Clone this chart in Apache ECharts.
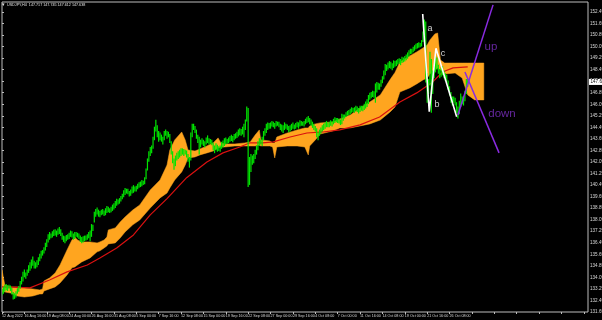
<!DOCTYPE html>
<html><head><meta charset="utf-8">
<script src="https://cdn.jsdelivr.net/npm/echarts@6/dist/echarts.min.js"></script>
<style>html,body{margin:0;padding:0;background:#000}#c{width:602px;height:320px}</style>
</head><body><div id="c"></div>
<script>
// time axis labels, one every 16 H4 bars
const timeLabels = ['12 Aug 2022','16 Aug 16:00','19 Aug 08:00','24 Aug 00:00','26 Aug 16:00','31 Aug 08:00','5 Sep 00:00','7 Sep 16:00','12 Sep 08:00','15 Sep 00:00','19 Sep 16:00','22 Sep 08:00','27 Sep 00:00','29 Sep 16:00','4 Oct 08:00','7 Oct 00:00','11 Oct 16:00','14 Oct 08:00','19 Oct 00:00','21 Oct 16:00','26 Oct 08:00'];
const priceMin = 131.69, priceMax = 153.18, priceStep = 0.8;
const titleText = 'USDJPY,H4  147.717 147.745 147.612 147.638';
const lastPrice = 147.638;

// H4 bar lows / highs (one line per trading day)
const barLow = [
132.85,132.95,133.10,133.20,133.15,133.30,
133.15,132.90,132.55,132.60,132.70,132.95,
133.10,133.30,133.60,133.80,134.10,134.00,
134.20,134.40,134.55,134.70,134.90,134.70,
134.70,134.80,134.95,135.20,135.40,135.60,
135.75,135.95,136.20,136.50,136.70,136.80,
136.85,136.95,137.00,136.90,137.05,137.10,
136.95,136.70,136.55,136.45,136.60,136.70,
136.75,136.90,136.85,136.70,136.75,136.90,
136.85,136.75,136.55,136.45,136.50,136.60,
136.65,136.70,136.80,136.60,136.90,137.30,
137.90,138.30,138.45,138.30,138.25,138.40,
138.45,138.35,138.40,138.55,138.60,138.55,
138.60,138.70,138.80,138.90,139.05,139.15,
139.20,139.35,139.50,139.65,139.80,139.90,
139.85,139.70,139.75,139.90,139.95,140.05,
140.05,140.20,140.30,140.35,140.40,140.50,
140.55,140.90,141.50,142.10,142.50,142.70,
143.00,143.60,144.20,143.80,143.50,143.60,
143.50,143.30,143.60,143.90,143.70,143.80,
143.40,142.60,142.00,141.55,141.80,142.20,
142.30,142.40,142.50,142.60,142.50,142.60,
142.40,142.10,141.70,142.20,143.80,144.30,
144.10,143.70,143.40,142.60,143.10,143.30,
143.20,143.10,143.30,143.40,143.30,143.35,
143.25,142.90,142.70,142.90,142.80,142.85,
142.80,143.00,143.10,143.20,143.30,143.35,
143.40,143.50,143.55,143.45,143.60,143.70,
143.75,143.85,143.95,143.90,144.00,143.80,
144.30,144.90,140.36,140.50,141.40,141.90,
142.00,142.30,142.60,142.90,143.20,143.30,
143.20,143.60,143.90,144.10,144.30,144.40,
144.40,144.55,144.50,144.40,144.55,144.60,
144.50,144.30,144.20,144.10,144.30,144.40,
144.30,144.15,144.20,144.30,144.40,144.35,
144.40,144.50,144.40,144.55,144.60,144.60,
144.55,144.70,144.80,144.85,144.70,144.60,
144.45,144.30,144.20,143.80,143.60,143.90,
144.05,144.20,144.30,144.40,144.50,144.50,
144.50,144.60,144.55,144.70,144.80,144.85,
144.80,144.75,144.65,144.70,144.95,145.10,
145.20,145.30,145.35,145.40,145.50,145.55,
145.50,145.60,145.55,145.45,145.55,145.65,
145.60,145.70,145.80,145.90,146.10,146.40,
146.50,146.60,146.55,146.20,146.90,147.10,
147.10,147.30,147.55,147.80,148.10,148.40,
148.50,148.60,148.55,148.45,148.60,148.70,
148.75,148.85,148.90,148.80,148.95,149.00,
149.05,149.15,149.25,149.40,149.55,149.60,
149.70,149.80,149.90,149.95,150.00,150.05,
150.10,150.40,150.90,147.60,146.20,146.80,
147.40,145.50,146.80,147.90,148.30,148.50,
148.20,147.90,148.00,148.10,147.90,147.70,
147.50,147.10,146.70,146.20,146.00,146.20,
146.00,145.50,145.10,145.40,145.90,146.10,
146.00,146.30,146.80,147.30
];
const barHigh = [
133.25,133.40,133.55,133.60,133.50,133.55,
133.50,133.35,133.05,132.95,133.10,133.30,
133.45,133.80,134.10,134.45,134.60,134.40,
134.60,134.90,135.10,135.30,135.50,135.20,
135.10,135.25,135.45,135.70,135.90,135.95,
136.15,136.45,136.70,137.05,137.20,137.10,
137.25,137.35,137.40,137.30,137.45,137.55,
137.40,137.15,136.95,136.90,137.00,137.05,
137.15,137.30,137.25,137.10,137.20,137.20,
137.15,137.10,136.95,136.85,136.90,136.95,
136.95,137.05,137.20,137.30,137.75,137.70,
138.60,138.80,138.90,138.75,138.65,138.75,
138.80,138.70,138.85,139.00,138.95,138.85,
138.95,139.10,139.20,139.35,139.50,139.45,
139.55,139.70,139.85,140.10,140.25,140.20,
140.20,140.05,140.15,140.35,140.45,140.35,
140.40,140.55,140.65,140.70,140.80,140.75,
141.00,141.60,142.30,142.80,143.10,143.20,
143.80,144.50,144.99,144.60,144.20,144.10,
143.95,143.80,144.20,144.30,144.20,144.15,
144.00,143.50,142.80,142.30,142.50,142.70,
142.80,142.90,143.00,143.00,142.95,142.90,
142.85,142.60,142.40,144.10,144.70,144.70,
144.55,144.30,143.95,143.80,143.60,143.70,
143.60,143.50,143.75,143.90,143.70,143.65,
143.60,143.40,143.20,143.35,143.25,143.15,
143.20,143.45,143.55,143.70,143.75,143.65,
143.75,143.85,143.95,143.85,144.00,144.05,
144.15,144.30,144.40,144.35,144.50,144.70,
145.00,145.90,145.80,142.40,142.60,142.50,
142.60,142.90,143.20,143.50,143.70,143.60,
143.80,144.20,144.40,144.70,144.80,144.75,
144.80,144.90,144.85,144.75,144.90,144.85,
144.85,144.70,144.65,144.60,144.80,144.70,
144.65,144.55,144.60,144.70,144.80,144.65,
144.75,144.85,144.80,144.95,144.90,144.85,
144.90,145.05,145.15,145.25,145.10,145.00,
144.85,144.70,144.55,144.40,144.10,144.30,
144.45,144.60,144.70,144.80,144.90,144.80,
144.85,144.95,144.90,145.05,145.15,145.10,
145.10,145.05,145.00,145.40,145.35,145.35,
145.50,145.60,145.65,145.75,145.85,145.80,
145.85,145.95,145.90,145.80,145.95,145.95,
145.95,146.10,146.25,146.40,146.70,146.85,
146.90,147.00,146.95,147.50,147.60,147.55,
147.50,147.75,148.00,148.40,148.85,148.80,
148.95,149.05,149.00,148.90,149.10,149.05,
149.10,149.20,149.25,149.20,149.35,149.30,
149.40,149.50,149.65,149.80,149.90,149.90,
150.05,150.15,150.25,150.30,150.35,150.30,
150.50,151.10,151.94,151.80,148.20,147.80,
149.70,149.20,148.40,148.70,149.40,149.30,
148.80,148.50,148.60,148.70,148.40,148.20,
148.10,147.70,147.30,146.90,146.60,146.60,
146.50,146.20,145.90,146.30,146.80,146.60,
146.60,147.00,147.80,147.80
];

// moving average (red) read at bar positions
const maBar   = [0,20,34,46.5,61,70,82,94,106,118,132,146.5,158,170,177,186.5,194,206,218,229.5,241.5,256,270,284.5,296.5,308,315,322.5,333];
const maPrice = [133.43,133.36,133.91,134.47,134.95,135.44,136.13,137.03,138.42,139.55,141.00,142.09,142.72,143.13,143.41,143.41,143.48,143.82,144.10,144.17,144.31,144.66,145.21,146.25,146.88,147.64,148.33,148.61,148.68];

// Ichimoku cloud envelope (top / bottom) at bar positions
const cloudBar = [0,2,6,11,16,22,27,29,30,34,38,41.5,46.5,50,52,54,57,63,68,70,73,75,76,81,84.5,88,93.5,98.5,106,113,118,120,123.5,128.5,131,133,138,141.5,146.5,151,154.5,156.5,159.5,166.5,173.5,177.5,181,184,185,191.5,193.5,195,196.5,204,211,216.5,219,220,224,227.5,236.5,241.5,249,256,263,270.5,277.5,281,284.5,291.5,296.5,301,304,306,309.5,311.5,313.5,316.5,324,329,333,338,344.5];
const cloudTop = [134.61,133.56,133.43,133.43,133.36,133.29,133.22,133.29,133.84,134.05,134.40,134.95,135.99,136.68,136.89,136.68,136.55,136.55,136.48,136.55,136.68,136.89,137.38,137.52,137.93,138.28,138.76,139.11,140.15,140.84,141.88,142.92,143.62,144.17,143.62,142.92,142.85,142.99,143.20,143.41,143.76,143.41,143.34,143.34,143.41,143.48,143.96,144.31,143.62,143.55,143.41,143.41,143.82,144.10,144.31,144.45,144.45,144.59,144.73,144.80,144.86,145.07,145.35,145.84,146.25,146.74,147.80,148.30,149.02,149.44,149.72,149.99,150.20,150.55,150.97,151.03,149.16,148.95,148.95,148.95,148.95,148.95,148.95];
const cloudBot = [133.08,133.08,133.01,132.80,132.73,132.80,132.94,132.94,133.15,133.29,133.43,133.70,134.26,134.75,134.81,134.95,135.16,135.44,135.86,135.93,136.13,136.27,136.41,136.48,136.82,137.24,137.73,138.07,138.90,139.60,139.94,140.29,140.84,141.40,141.88,142.37,142.44,142.58,142.72,142.85,143.06,143.13,143.13,143.20,143.20,143.20,143.20,143.27,143.20,143.20,143.13,142.37,143.13,143.20,143.20,143.13,142.58,143.20,143.62,144.03,144.24,144.45,144.45,144.59,144.73,145.00,145.56,145.90,146.94,147.22,147.50,147.78,147.91,148.19,148.47,148.61,148.47,148.19,148.26,147.91,146.74,146.39,146.39];

// analyst drawings
const wavePoints = [[300.8,152.35],[305.5,145.58],[310.3,149.97],[325.1,145.23]];
const upLine   = [[326.0,145.35],[351.1,152.98]];
const downLine = [[331.0,148.33],[355.4,142.72]];
const waveLabels  = [['a',306.0,151.31],['b',311.0,146.04],['c',315.3,149.58]];
const trendLabels = [['up',349.6,150.06],['down',357.5,145.42]];

const chart = echarts.init(document.getElementById('c'));
const FONT = 'Liberation Sans';
chart.setOption({
  backgroundColor: '#000',
  animation: false,
  textStyle: {fontFamily: FONT},
  grid: {left: 2, top: 2, right: 14, bottom: 8, show: true, borderColor: '#bdbdbd', borderWidth: 1,
    containLabel: false, outerBoundsMode: 'none'},
  xAxis: {
    type: 'value', min: 0, max: 419, interval: 16,
    axisLine: {show: false}, splitLine: {show: false},
    axisTick: {show: true, length: 2, lineStyle: {color: '#bdbdbd'}},
    axisLabel: {color: '#d8d8d8', fontSize: 3.7, fontFamily: FONT, align: 'left', margin: 1.5, showMaxLabel: false,
      formatter: v => (v % 16 === 0 && timeLabels[v / 16] !== undefined) ? timeLabels[v / 16] : ''}
  },
  yAxis: {
    type: 'value', position: 'right', min: priceMin, max: priceMax, interval: priceStep,
    axisLine: {show: false}, splitLine: {show: false},
    axisTick: {show: true, length: 2, lineStyle: {color: '#bdbdbd'}},
    axisLabel: {color: '#d8d8d8', fontSize: 4.6, fontFamily: FONT, margin: 2, showMaxLabel: false, formatter: v => v.toFixed(3)}
  },
  graphic: [
    {type: 'text', left: 2, top: 2, style: {text: '▾', fill: '#e0e0e0', font: '5px DejaVu Sans'}},
    {type: 'text', left: 7, top: 2.5, style: {text: titleText, fill: '#e0e0e0', font: '3.7px ' + FONT}}
  ],
  series: [
    {
      type: 'custom', name: 'cloud', clip: true, z: 1,
      data: [[cloudBar[0], cloudTop[0]]], encode: {x: 0, y: 1},
      renderItem: (params, api) => {
        const pts = [];
        for (let i = 0; i < cloudBar.length; i++) pts.push(api.coord([cloudBar[i], cloudTop[i]]));
        for (let i = cloudBar.length - 1; i >= 0; i--) pts.push(api.coord([cloudBar[i], cloudBot[i]]));
        return {type: 'polygon', shape: {points: pts}, style: {fill: '#ffa51f', stroke: '#ffa51f', lineWidth: 0.5}};
      }
    },
    {
      type: 'line', name: 'MA', z: 2, showSymbol: false, symbol: 'none',
      data: maBar.map((b, i) => [b, maPrice[i]]),
      lineStyle: {color: '#d81010', width: 1.2}
    },
    {
      type: 'custom', name: 'bars', clip: true, z: 3,
      data: barLow.map((l, i) => [i, l, barHigh[i]]), encode: {x: 0, y: [1, 2]},
      renderItem: (params, api) => {
        const a = api.coord([api.value(0), api.value(1)]);
        const b = api.coord([api.value(0), api.value(2)]);
        return {type: 'line', shape: {x1: a[0], y1: a[1], x2: b[0], y2: b[1] - 0.5}, style: {stroke: '#00e400', lineWidth: 1.2}};
      }
    },
    {
      type: 'custom', name: 'lastPrice', clip: false, z: 10,
      data: [[0, lastPrice]], encode: {x: 0, y: 1},
      renderItem: (params, api) => {
        const p = api.coord([0, api.value(1)]);
        const cs = params.coordSys;
        const x0 = cs.x + cs.width + 1;
        return {type: 'group', children: [
          {type: 'rect', shape: {x: x0, y: p[1] - 3, width: 20, height: 6}, style: {fill: '#ffffff'}},
          {type: 'text', style: {x: x0 + 1.5, y: p[1], text: lastPrice.toFixed(3), fill: '#000', font: '4.6px ' + FONT, verticalAlign: 'middle'}}
        ]};
      }
    },
    {type: 'line', z: 5, data: wavePoints, symbol: 'none', lineStyle: {color: '#ffffff', width: 1.6}},
    {type: 'line', z: 5, data: upLine, symbol: 'none', lineStyle: {color: '#8a2be2', width: 1.5}},
    {type: 'line', z: 5, data: downLine, symbol: 'none', lineStyle: {color: '#8a2be2', width: 1.5}},
    {
      type: 'scatter', z: 6, symbolSize: 1, itemStyle: {color: 'rgba(0,0,0,0)'},
      data: waveLabels.map(w => ({value: [w[1], w[2]], label: {show: true, position: 'inside', formatter: w[0], color: '#ffffff', fontSize: 9, fontFamily: FONT}}))
        .concat(trendLabels.map(w => ({value: [w[1], w[2]], label: {show: true, position: 'inside', formatter: w[0], color: '#7d2fc4', fontSize: 11.5, fontFamily: FONT}})))
    }
  ]
});
</script></body></html>
